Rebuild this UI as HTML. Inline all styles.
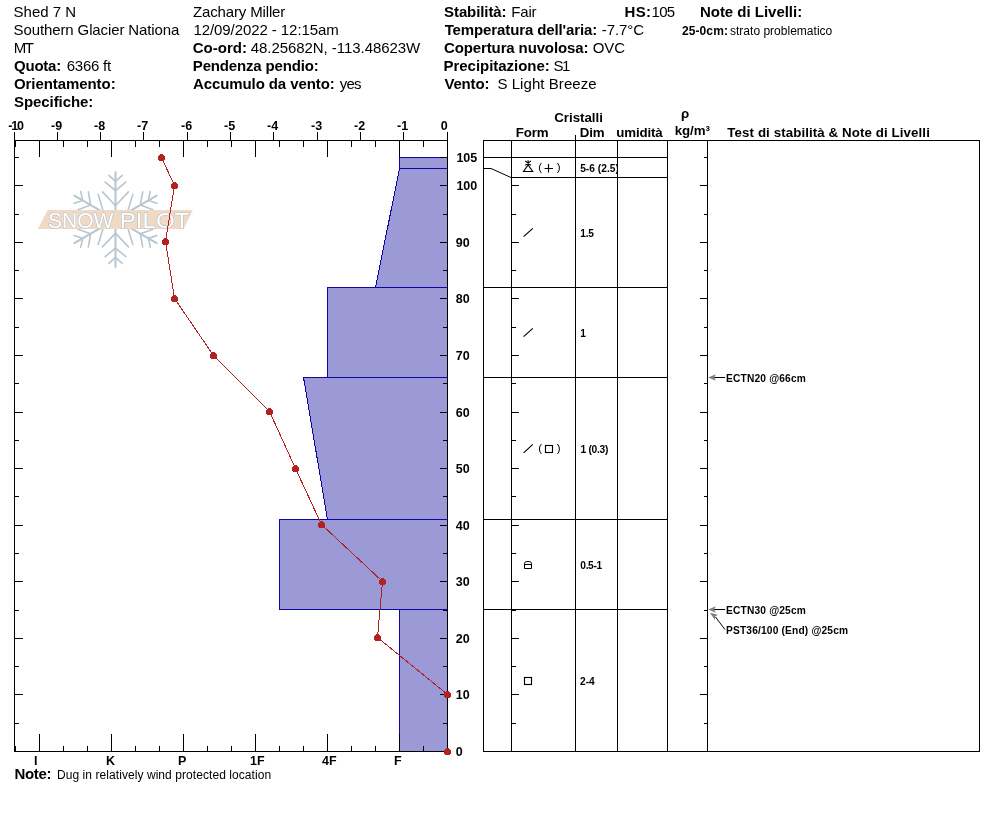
<!DOCTYPE html>
<html><head><meta charset="utf-8"><title>Snow Profile</title>
<style>
html,body{margin:0;padding:0;background:#fff;}
body{width:994px;height:840px;overflow:hidden;position:relative;font-family:"Liberation Sans",sans-serif;color:#000;}
svg{position:absolute;left:0;top:0;}
text{font-family:"Liberation Sans",sans-serif;fill:#000;white-space:pre;}
.h{font-size:15px;}
.b{font-weight:bold;}
.ax{font-size:12.5px;font-weight:bold;}
.sm{font-size:12px;}
.lb{font-size:10.2px;font-weight:bold;}
.th{font-size:13.3px;font-weight:bold;}
.pr{font-size:11.5px;}
</style></head><body>
<svg width="994" height="840" viewBox="0 0 994 840">
<text id="h0" x="13.60" y="16.5" class="h" textLength="62.43" lengthAdjust="spacing">Shed 7 N</text>
<text id="h1" x="13.60" y="34.5" class="h" textLength="165.76" lengthAdjust="spacing">Southern Glacier Nationa</text>
<text id="h2" x="13.80" y="52.5" class="h" textLength="20.22" lengthAdjust="spacing">MT</text>
<text id="h3" x="14.03" y="70.5" class="h b" textLength="47.17" lengthAdjust="spacing">Quota:</text>
<text id="h4" x="66.80" y="70.5" class="h" textLength="44.27" lengthAdjust="spacing">6366 ft</text>
<text id="h5" x="13.94" y="88.5" class="h b" textLength="101.69" lengthAdjust="spacing">Orientamento:</text>
<text id="h6" x="13.94" y="106.5" class="h b" textLength="79.39" lengthAdjust="spacing">Specifiche:</text>
<text id="h7" x="192.97" y="16.5" class="h" textLength="92.32" lengthAdjust="spacing">Zachary Miller</text>
<text id="h8" x="193.44" y="34.5" class="h" textLength="145.34" lengthAdjust="spacing">12/09/2022 - 12:15am</text>
<text id="h9" x="192.76" y="52.5" class="h b" textLength="54.16" lengthAdjust="spacing">Co-ord:</text>
<text id="h10" x="250.72" y="52.5" class="h" textLength="169.50" lengthAdjust="spacing">48.25682N, -113.48623W</text>
<text id="h11" x="192.79" y="70.5" class="h b" textLength="125.86" lengthAdjust="spacing">Pendenza pendio:</text>
<text id="h12" x="192.96" y="88.5" class="h b" textLength="141.74" lengthAdjust="spacing">Accumulo da vento:</text>
<text id="h13" x="339.77" y="88.5" class="h" textLength="21.77" lengthAdjust="spacing">yes</text>
<text id="h14" x="444.06" y="16.5" class="h b" textLength="62.50" lengthAdjust="spacing">Stabilità:</text>
<text id="h15" x="511.37" y="16.5" class="h" textLength="25.14" lengthAdjust="spacing">Fair</text>
<text id="h16" x="624.60" y="16.5" class="h b" textLength="26.36" lengthAdjust="spacing">HS:</text>
<text id="h17" x="651.60" y="16.5" class="h" textLength="23.56" lengthAdjust="spacing">105</text>
<text id="h18" x="444.64" y="34.5" class="h b" textLength="152.62" lengthAdjust="spacing">Temperatura dell'aria:</text>
<text id="h19" x="601.83" y="34.5" class="h" textLength="42.16" lengthAdjust="spacing">-7.7°C</text>
<text id="h20" x="444.03" y="52.5" class="h b" textLength="144.37" lengthAdjust="spacing">Copertura nuvolosa:</text>
<text id="h21" x="592.73" y="52.5" class="h" textLength="32.27" lengthAdjust="spacing">OVC</text>
<text id="h22" x="443.50" y="70.5" class="h b" textLength="106.24" lengthAdjust="spacing">Precipitazione:</text>
<text id="h23" x="553.54" y="70.5" class="h" textLength="16.86" lengthAdjust="spacing">S1</text>
<text id="h24" x="444.40" y="88.5" class="h b" textLength="45.06" lengthAdjust="spacing">Vento:</text>
<text id="h25" x="497.39" y="88.5" class="h" textLength="99.21" lengthAdjust="spacing">S Light Breeze</text>
<text id="h26" x="699.93" y="16.5" class="h b" textLength="102.21" lengthAdjust="spacing">Note di Livelli:</text>
<text id="n1" x="681.90" y="34.6" class="sm b" textLength="46.02" lengthAdjust="spacing">25-0cm:</text>
<text id="n2" x="730.01" y="34.6" class="sm" textLength="102.26" lengthAdjust="spacing">strato problematico</text>
<text id="n3" x="14.38" y="778.5" class="h b" textLength="37.00" lengthAdjust="spacing">Note:</text>
<text id="n4" x="56.98" y="778.5" class="sm" textLength="214.19" lengthAdjust="spacing">Dug in relatively wind protected location</text>
<polygon points="399.5,157.5 447.5,157.5 447.5,168.5 399.5,168.5" fill="#9b9ad6" stroke="#0e06a2" stroke-width="1" shape-rendering="crispEdges"/>
<polygon points="399.5,168.5 447.5,168.5 447.5,287.5 375.5,287.5" fill="#9b9ad6" stroke="#0e06a2" stroke-width="1" shape-rendering="crispEdges"/>
<polygon points="327.5,287.5 447.5,287.5 447.5,377.5 327.5,377.5" fill="#9b9ad6" stroke="#0e06a2" stroke-width="1" shape-rendering="crispEdges"/>
<polygon points="303.5,377.5 447.5,377.5 447.5,519.5 327.5,519.5" fill="#9b9ad6" stroke="#0e06a2" stroke-width="1" shape-rendering="crispEdges"/>
<polygon points="279.5,519.5 447.5,519.5 447.5,609.5 279.5,609.5" fill="#9b9ad6" stroke="#0e06a2" stroke-width="1" shape-rendering="crispEdges"/>
<polygon points="399.5,609.5 447.5,609.5 447.5,751.5 399.5,751.5" fill="#9b9ad6" stroke="#0e06a2" stroke-width="1" shape-rendering="crispEdges"/>
<g transform="translate(115.5,219.4) rotate(0)"><path d="M0,0 L0,-47.5" stroke="#b7c6d0" stroke-width="2" fill="none" stroke-linecap="round"/><path d="M-6.7,-44 L0,-38 L6.7,-44 M-10.3,-37.3 L0,-28.7 L10.3,-37.3 M-13,-27.5 L0,-13.7 L13,-27.5" stroke="#b7c6d0" stroke-width="1.6" fill="none" stroke-linecap="round"/></g><g transform="translate(115.5,219.4) rotate(60)"><path d="M0,0 L0,-47.5" stroke="#b7c6d0" stroke-width="2" fill="none" stroke-linecap="round"/><path d="M-6.7,-44 L0,-38 L6.7,-44 M-10.3,-37.3 L0,-28.7 L10.3,-37.3 M-13,-27.5 L0,-13.7 L13,-27.5" stroke="#b7c6d0" stroke-width="1.6" fill="none" stroke-linecap="round"/></g><g transform="translate(115.5,219.4) rotate(120)"><path d="M0,0 L0,-47.5" stroke="#b7c6d0" stroke-width="2" fill="none" stroke-linecap="round"/><path d="M-6.7,-44 L0,-38 L6.7,-44 M-10.3,-37.3 L0,-28.7 L10.3,-37.3 M-13,-27.5 L0,-13.7 L13,-27.5" stroke="#b7c6d0" stroke-width="1.6" fill="none" stroke-linecap="round"/></g><g transform="translate(115.5,219.4) rotate(180)"><path d="M0,0 L0,-47.5" stroke="#b7c6d0" stroke-width="2" fill="none" stroke-linecap="round"/><path d="M-6.7,-44 L0,-38 L6.7,-44 M-10.3,-37.3 L0,-28.7 L10.3,-37.3 M-13,-27.5 L0,-13.7 L13,-27.5" stroke="#b7c6d0" stroke-width="1.6" fill="none" stroke-linecap="round"/></g><g transform="translate(115.5,219.4) rotate(240)"><path d="M0,0 L0,-47.5" stroke="#b7c6d0" stroke-width="2" fill="none" stroke-linecap="round"/><path d="M-6.7,-44 L0,-38 L6.7,-44 M-10.3,-37.3 L0,-28.7 L10.3,-37.3 M-13,-27.5 L0,-13.7 L13,-27.5" stroke="#b7c6d0" stroke-width="1.6" fill="none" stroke-linecap="round"/></g><g transform="translate(115.5,219.4) rotate(300)"><path d="M0,0 L0,-47.5" stroke="#b7c6d0" stroke-width="2" fill="none" stroke-linecap="round"/><path d="M-6.7,-44 L0,-38 L6.7,-44 M-10.3,-37.3 L0,-28.7 L10.3,-37.3 M-13,-27.5 L0,-13.7 L13,-27.5" stroke="#b7c6d0" stroke-width="1.6" fill="none" stroke-linecap="round"/></g>
<polygon points="47.6,209.9 192.8,209.9 183.8,229 37.8,229" fill="#f0d9c5"/>
<text y="227.8" style="font-size:22.4px;fill:#fff;stroke:#b0bcc6;stroke-width:1.1px;paint-order:stroke"><tspan x="47.9" textLength="65.5" lengthAdjust="spacingAndGlyphs">SNOW</tspan><tspan> </tspan><tspan x="119.8" textLength="69.5" lengthAdjust="spacingAndGlyphs">PILOT</tspan></text>
<polyline points="161.5,157.5 174.5,185.5 165.5,241.5 174.5,298.5 213.5,355.5 269.5,411.5 295.5,468.5 321.5,524.5 382.5,581.5 377.5,637.5 447.5,694.5 447.5,751.5" fill="none" stroke="#b22222" stroke-width="1" shape-rendering="crispEdges"/>
<g stroke="#000" stroke-width="1" fill="none" shape-rendering="crispEdges">
<line x1="14" y1="140.5" x2="448" y2="140.5"/>
<line x1="14" y1="751.5" x2="448" y2="751.5"/>
<line x1="14.5" y1="140" x2="14.5" y2="752"/>
<line x1="447.5" y1="140" x2="447.5" y2="752"/>
<line x1="447.5" y1="132" x2="447.5" y2="141"/>
<line x1="403.5" y1="132" x2="403.5" y2="141"/>
<line x1="360.5" y1="132" x2="360.5" y2="141"/>
<line x1="317.5" y1="132" x2="317.5" y2="141"/>
<line x1="273.5" y1="132" x2="273.5" y2="141"/>
<line x1="230.5" y1="132" x2="230.5" y2="141"/>
<line x1="187.5" y1="132" x2="187.5" y2="141"/>
<line x1="143.5" y1="132" x2="143.5" y2="141"/>
<line x1="100.5" y1="132" x2="100.5" y2="141"/>
<line x1="57.5" y1="132" x2="57.5" y2="141"/>
<line x1="14.5" y1="132" x2="14.5" y2="141"/>
<line x1="15.5" y1="140" x2="15.5" y2="147"/>
<line x1="15.5" y1="746" x2="15.5" y2="752"/>
<line x1="39.5" y1="140" x2="39.5" y2="157"/>
<line x1="39.5" y1="734" x2="39.5" y2="752"/>
<line x1="63.5" y1="140" x2="63.5" y2="147"/>
<line x1="63.5" y1="746" x2="63.5" y2="752"/>
<line x1="87.5" y1="140" x2="87.5" y2="147"/>
<line x1="87.5" y1="746" x2="87.5" y2="752"/>
<line x1="111.5" y1="140" x2="111.5" y2="157"/>
<line x1="111.5" y1="734" x2="111.5" y2="752"/>
<line x1="135.5" y1="140" x2="135.5" y2="147"/>
<line x1="135.5" y1="746" x2="135.5" y2="752"/>
<line x1="159.5" y1="140" x2="159.5" y2="147"/>
<line x1="159.5" y1="746" x2="159.5" y2="752"/>
<line x1="183.5" y1="140" x2="183.5" y2="157"/>
<line x1="183.5" y1="734" x2="183.5" y2="752"/>
<line x1="207.5" y1="140" x2="207.5" y2="147"/>
<line x1="207.5" y1="746" x2="207.5" y2="752"/>
<line x1="231.5" y1="140" x2="231.5" y2="147"/>
<line x1="231.5" y1="746" x2="231.5" y2="752"/>
<line x1="255.5" y1="140" x2="255.5" y2="157"/>
<line x1="255.5" y1="734" x2="255.5" y2="752"/>
<line x1="279.5" y1="140" x2="279.5" y2="147"/>
<line x1="279.5" y1="746" x2="279.5" y2="752"/>
<line x1="303.5" y1="140" x2="303.5" y2="147"/>
<line x1="303.5" y1="746" x2="303.5" y2="752"/>
<line x1="327.5" y1="140" x2="327.5" y2="157"/>
<line x1="327.5" y1="734" x2="327.5" y2="752"/>
<line x1="351.5" y1="140" x2="351.5" y2="147"/>
<line x1="351.5" y1="746" x2="351.5" y2="752"/>
<line x1="375.5" y1="140" x2="375.5" y2="147"/>
<line x1="375.5" y1="746" x2="375.5" y2="752"/>
<line x1="399.5" y1="140" x2="399.5" y2="157"/>
<line x1="399.5" y1="734" x2="399.5" y2="752"/>
<line x1="423.5" y1="140" x2="423.5" y2="147"/>
<line x1="423.5" y1="746" x2="423.5" y2="752"/>
<line x1="447.5" y1="140" x2="447.5" y2="147"/>
<line x1="447.5" y1="746" x2="447.5" y2="752"/>
<line x1="14" y1="751.5" x2="23" y2="751.5"/>
<line x1="440" y1="751.5" x2="448" y2="751.5"/>
<line x1="14" y1="723.5" x2="19" y2="723.5"/>
<line x1="443" y1="723.5" x2="448" y2="723.5"/>
<line x1="14" y1="694.5" x2="23" y2="694.5"/>
<line x1="440" y1="694.5" x2="448" y2="694.5"/>
<line x1="14" y1="666.5" x2="19" y2="666.5"/>
<line x1="443" y1="666.5" x2="448" y2="666.5"/>
<line x1="14" y1="638.5" x2="23" y2="638.5"/>
<line x1="440" y1="638.5" x2="448" y2="638.5"/>
<line x1="14" y1="610.5" x2="19" y2="610.5"/>
<line x1="443" y1="610.5" x2="448" y2="610.5"/>
<line x1="14" y1="581.5" x2="23" y2="581.5"/>
<line x1="440" y1="581.5" x2="448" y2="581.5"/>
<line x1="14" y1="553.5" x2="19" y2="553.5"/>
<line x1="443" y1="553.5" x2="448" y2="553.5"/>
<line x1="14" y1="525.5" x2="23" y2="525.5"/>
<line x1="440" y1="525.5" x2="448" y2="525.5"/>
<line x1="14" y1="496.5" x2="19" y2="496.5"/>
<line x1="443" y1="496.5" x2="448" y2="496.5"/>
<line x1="14" y1="468.5" x2="23" y2="468.5"/>
<line x1="440" y1="468.5" x2="448" y2="468.5"/>
<line x1="14" y1="440.5" x2="19" y2="440.5"/>
<line x1="443" y1="440.5" x2="448" y2="440.5"/>
<line x1="14" y1="412.5" x2="23" y2="412.5"/>
<line x1="440" y1="412.5" x2="448" y2="412.5"/>
<line x1="14" y1="383.5" x2="19" y2="383.5"/>
<line x1="443" y1="383.5" x2="448" y2="383.5"/>
<line x1="14" y1="355.5" x2="23" y2="355.5"/>
<line x1="440" y1="355.5" x2="448" y2="355.5"/>
<line x1="14" y1="327.5" x2="19" y2="327.5"/>
<line x1="443" y1="327.5" x2="448" y2="327.5"/>
<line x1="14" y1="298.5" x2="23" y2="298.5"/>
<line x1="440" y1="298.5" x2="448" y2="298.5"/>
<line x1="14" y1="270.5" x2="19" y2="270.5"/>
<line x1="443" y1="270.5" x2="448" y2="270.5"/>
<line x1="14" y1="242.5" x2="23" y2="242.5"/>
<line x1="440" y1="242.5" x2="448" y2="242.5"/>
<line x1="14" y1="214.5" x2="19" y2="214.5"/>
<line x1="443" y1="214.5" x2="448" y2="214.5"/>
<line x1="14" y1="185.5" x2="23" y2="185.5"/>
<line x1="440" y1="185.5" x2="448" y2="185.5"/>
<line x1="14" y1="157.5" x2="19" y2="157.5"/>
<line x1="440" y1="157.5" x2="448" y2="157.5"/>
</g>
<text id="t0" x="440.70" y="129.7" class="ax">0</text>
<text id="t1" x="397.00" y="129.7" class="ax">-1</text>
<text id="t2" x="354.00" y="129.7" class="ax">-2</text>
<text id="t3" x="311.00" y="129.7" class="ax">-3</text>
<text id="t4" x="267.00" y="129.7" class="ax">-4</text>
<text id="t5" x="224.00" y="129.7" class="ax">-5</text>
<text id="t6" x="181.00" y="129.7" class="ax">-6</text>
<text id="t7" x="137.00" y="129.7" class="ax">-7</text>
<text id="t8" x="94.00" y="129.7" class="ax">-8</text>
<text id="t9" x="51.00" y="129.7" class="ax">-9</text>
<text id="t10" x="8.13" y="129.7" class="ax" textLength="15.91" lengthAdjust="spacing">-10</text>
<text id="hd0" x="34.10" y="765.3" class="ax">I</text>
<text id="hd1" x="106.10" y="765.3" class="ax">K</text>
<text id="hd2" x="178.10" y="765.3" class="ax">P</text>
<text id="hd3" x="250.10" y="765.3" class="ax">1F</text>
<text id="hd4" x="322.10" y="765.3" class="ax">4F</text>
<text id="hd5" x="394.10" y="765.3" class="ax">F</text>
<text id="d0" x="455.70" y="755.5" class="ax">0</text>
<text id="d10" x="455.70" y="698.5" class="ax">10</text>
<text id="d20" x="455.70" y="642.5" class="ax">20</text>
<text id="d30" x="455.70" y="585.5" class="ax">30</text>
<text id="d40" x="455.70" y="529.5" class="ax">40</text>
<text id="d50" x="455.70" y="472.5" class="ax">50</text>
<text id="d60" x="455.70" y="416.5" class="ax">60</text>
<text id="d70" x="455.70" y="359.5" class="ax">70</text>
<text id="d80" x="455.70" y="302.5" class="ax">80</text>
<text id="d90" x="455.70" y="246.5" class="ax">90</text>
<text id="d100" x="456.40" y="189.5" class="ax">100</text>
<text id="d105" x="456.40" y="161.5" class="ax">105</text>
<circle cx="161.5" cy="157.5" r="3.5" fill="#b22222" shape-rendering="crispEdges"/>
<circle cx="174.5" cy="185.5" r="3.5" fill="#b22222" shape-rendering="crispEdges"/>
<circle cx="165.5" cy="241.5" r="3.5" fill="#b22222" shape-rendering="crispEdges"/>
<circle cx="174.5" cy="298.5" r="3.5" fill="#b22222" shape-rendering="crispEdges"/>
<circle cx="213.5" cy="355.5" r="3.5" fill="#b22222" shape-rendering="crispEdges"/>
<circle cx="269.5" cy="411.5" r="3.5" fill="#b22222" shape-rendering="crispEdges"/>
<circle cx="295.5" cy="468.5" r="3.5" fill="#b22222" shape-rendering="crispEdges"/>
<circle cx="321.5" cy="524.5" r="3.5" fill="#b22222" shape-rendering="crispEdges"/>
<circle cx="382.5" cy="581.5" r="3.5" fill="#b22222" shape-rendering="crispEdges"/>
<circle cx="377.5" cy="637.5" r="3.5" fill="#b22222" shape-rendering="crispEdges"/>
<circle cx="447.5" cy="694.5" r="3.5" fill="#b22222" shape-rendering="crispEdges"/>
<circle cx="447.5" cy="751.5" r="3.5" fill="#b22222" shape-rendering="crispEdges"/>
<g stroke="#000" stroke-width="1" fill="none" shape-rendering="crispEdges">
<line x1="483" y1="140.5" x2="980" y2="140.5"/>
<line x1="483" y1="751.5" x2="980" y2="751.5"/>
<line x1="483.5" y1="140" x2="483.5" y2="752"/>
<line x1="511.5" y1="140" x2="511.5" y2="752"/>
<line x1="575.5" y1="140" x2="575.5" y2="752"/>
<line x1="617.5" y1="140" x2="617.5" y2="752"/>
<line x1="667.5" y1="140" x2="667.5" y2="752"/>
<line x1="707.5" y1="140" x2="707.5" y2="752"/>
<line x1="979.5" y1="140" x2="979.5" y2="752"/>
<line x1="575.5" y1="135" x2="575.5" y2="141"/>
<line x1="483" y1="157.5" x2="668" y2="157.5"/>
<line x1="483" y1="287.5" x2="668" y2="287.5"/>
<line x1="483" y1="377.5" x2="668" y2="377.5"/>
<line x1="483" y1="519.5" x2="668" y2="519.5"/>
<line x1="483" y1="609.5" x2="668" y2="609.5"/>
<line x1="511" y1="751.5" x2="519" y2="751.5"/>
<line x1="700" y1="751.5" x2="708" y2="751.5"/>
<line x1="511" y1="723.5" x2="516" y2="723.5"/>
<line x1="704" y1="723.5" x2="708" y2="723.5"/>
<line x1="511" y1="694.5" x2="519" y2="694.5"/>
<line x1="700" y1="694.5" x2="708" y2="694.5"/>
<line x1="511" y1="666.5" x2="516" y2="666.5"/>
<line x1="704" y1="666.5" x2="708" y2="666.5"/>
<line x1="511" y1="638.5" x2="519" y2="638.5"/>
<line x1="700" y1="638.5" x2="708" y2="638.5"/>
<line x1="511" y1="610.5" x2="516" y2="610.5"/>
<line x1="704" y1="610.5" x2="708" y2="610.5"/>
<line x1="511" y1="581.5" x2="519" y2="581.5"/>
<line x1="700" y1="581.5" x2="708" y2="581.5"/>
<line x1="511" y1="553.5" x2="516" y2="553.5"/>
<line x1="704" y1="553.5" x2="708" y2="553.5"/>
<line x1="511" y1="525.5" x2="519" y2="525.5"/>
<line x1="700" y1="525.5" x2="708" y2="525.5"/>
<line x1="511" y1="496.5" x2="516" y2="496.5"/>
<line x1="704" y1="496.5" x2="708" y2="496.5"/>
<line x1="511" y1="468.5" x2="519" y2="468.5"/>
<line x1="700" y1="468.5" x2="708" y2="468.5"/>
<line x1="511" y1="440.5" x2="516" y2="440.5"/>
<line x1="704" y1="440.5" x2="708" y2="440.5"/>
<line x1="511" y1="412.5" x2="519" y2="412.5"/>
<line x1="700" y1="412.5" x2="708" y2="412.5"/>
<line x1="511" y1="383.5" x2="516" y2="383.5"/>
<line x1="704" y1="383.5" x2="708" y2="383.5"/>
<line x1="511" y1="355.5" x2="519" y2="355.5"/>
<line x1="700" y1="355.5" x2="708" y2="355.5"/>
<line x1="511" y1="327.5" x2="516" y2="327.5"/>
<line x1="704" y1="327.5" x2="708" y2="327.5"/>
<line x1="511" y1="298.5" x2="519" y2="298.5"/>
<line x1="700" y1="298.5" x2="708" y2="298.5"/>
<line x1="511" y1="270.5" x2="516" y2="270.5"/>
<line x1="704" y1="270.5" x2="708" y2="270.5"/>
<line x1="511" y1="242.5" x2="519" y2="242.5"/>
<line x1="700" y1="242.5" x2="708" y2="242.5"/>
<line x1="511" y1="214.5" x2="516" y2="214.5"/>
<line x1="704" y1="214.5" x2="708" y2="214.5"/>
<line x1="511" y1="185.5" x2="519" y2="185.5"/>
<line x1="700" y1="185.5" x2="708" y2="185.5"/>
<line x1="511" y1="157.5" x2="516" y2="157.5"/>
<line x1="704" y1="157.5" x2="708" y2="157.5"/>
<line x1="511" y1="177.5" x2="668" y2="177.5"/>
</g>
<path d="M483,168.5 L491,168.5 L511,177.5" stroke="#000" stroke-width="1" fill="none"/>
<text id="th1" x="554.22" y="122.1" class="th" textLength="48.61" lengthAdjust="spacing">Cristalli</text>
<text id="th2" x="515.86" y="137.2" class="th" textLength="32.68" lengthAdjust="spacing">Form</text>
<text id="th3" x="579.81" y="137.2" class="th" textLength="24.81" lengthAdjust="spacing">Dim</text>
<text id="th4" x="616.25" y="137.2" class="th" textLength="46.53" lengthAdjust="spacing">umidità</text>
<text id="th5" x="681.00" y="118" class="th">ρ</text>
<text id="th6" x="674.72" y="134.7" class="th" textLength="35.23" lengthAdjust="spacing">kg/m³</text>
<text id="th7" x="727.36" y="137.2" class="th" textLength="202.48" lengthAdjust="spacing">Test di stabilità &amp; Note di Livelli</text>
<text id="dm1" x="580.15" y="172" class="lb" textLength="38.73" lengthAdjust="spacing">5-6 (2.5)</text>
<text id="dm2" x="580.26" y="236.9" class="lb" textLength="13.62" lengthAdjust="spacing">1.5</text>
<text id="dm3" x="580.30" y="337" class="lb">1</text>
<text id="dm4" x="580.40" y="452.7" class="lb" textLength="28.05" lengthAdjust="spacing">1 (0.3)</text>
<text id="dm5" x="580.34" y="568.7" class="lb" textLength="21.77" lengthAdjust="spacing">0.5-1</text>
<text id="dm6" x="580.10" y="684.7" class="lb" textLength="14.65" lengthAdjust="spacing">2-4</text>
<rect x="618" y="160" width="6" height="16" fill="#fff"/>
<line x1="617.5" y1="158" x2="617.5" y2="178" stroke="#000" stroke-width="1" shape-rendering="crispEdges"/>
<g stroke="#000" stroke-width="1.15" fill="none">
<path d="M523.6,236.6 L532.8,228.4 M523.6,336.6 L532.8,328.4 M523.6,452.8 L532.8,444.4"/>
<rect x="545.5" y="445.5" width="7" height="7"/>
<rect x="524.5" y="677.5" width="7" height="7"/>
<path d="M524.5,568.5 L524.5,563.8 Q524.5,561.5 526.8,561.5 L529.2,561.5 Q531.5,561.5 531.5,563.8 L531.5,568.5 Z M524.5,564.5 L531.5,564.5" stroke-width="1"/>
<path d="M523.5,171.5 L532.7,171.5 L528.1,165 Z M528.1,160.3 L528.1,166 M525.2,160.9 L531,165.4 M531,160.9 L525.2,165.4"/>
<path d="M544.5,168.5 L553,168.5 M548.5,164 L548.5,172.5"/>
</g>
<text id="p1" x="538.30" y="171.3" class="pr">(</text>
<text id="p2" x="556.80" y="171.3" class="pr">)</text>
<text id="p3" x="538.30" y="452.3" class="pr">(</text>
<text id="p4" x="556.80" y="452.3" class="pr">)</text>
<text id="ts1" x="726.00" y="381.7" class="lb" textLength="79.83" lengthAdjust="spacing">ECTN20 @66cm</text>
<text id="ts2" x="726.00" y="613.8" class="lb" textLength="79.83" lengthAdjust="spacing">ECTN30 @25cm</text>
<text id="ts3" x="726.00" y="633.6" class="lb" textLength="122.11" lengthAdjust="spacing">PST36/100 (End) @25cm</text>
<g stroke="#000" stroke-width="1" fill="none">
<path d="M714,377.5 L725,377.5 M714,609.5 L725,609.5 M715.5,617 L725,629.6"/>
</g>
<g fill="#808080"><polygon points="708.2,377.5 715.8,374.3 714.2,377.5 715.8,380.8"/><polygon points="708.2,609.5 715.8,606.3 714.2,609.5 715.8,612.8"/><polygon points="709.8,612.8 717.8,614.8 715.2,616.6 715,620"/></g>
</svg>
</body></html>
